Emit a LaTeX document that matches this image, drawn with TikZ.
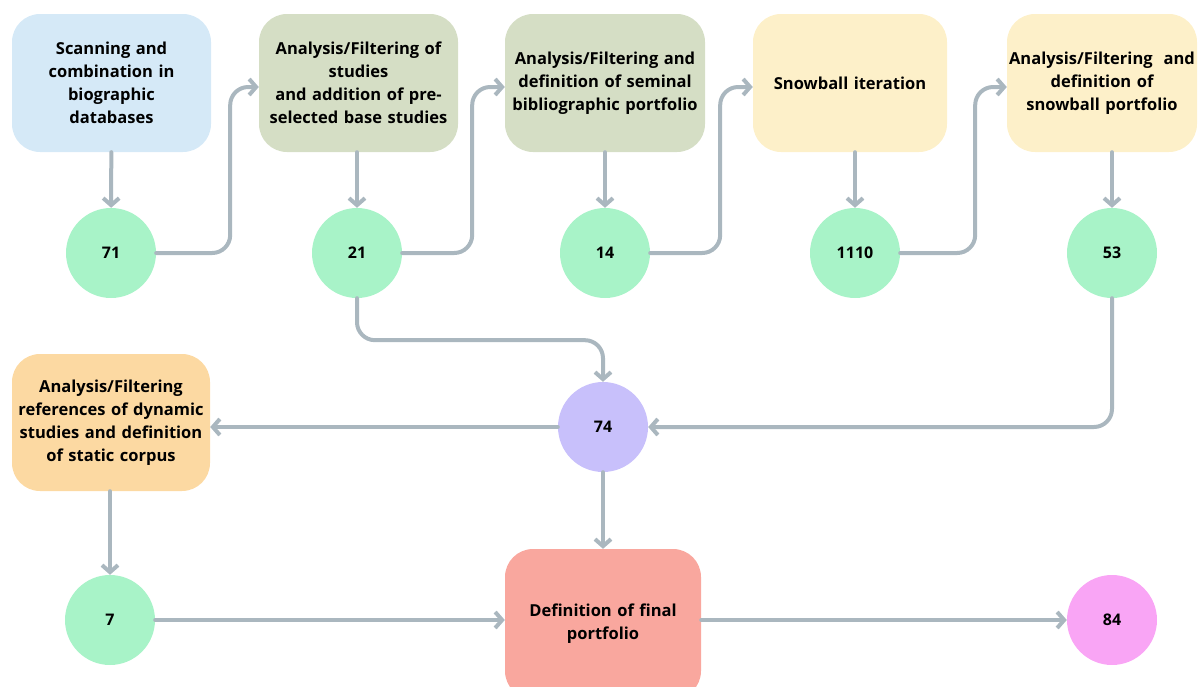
\documentclass[tikz,border=0pt]{standalone}
\usepackage{fontspec}
\setmainfont{Open Sans}
\usetikzlibrary{arrows.meta}
\definecolor{arrowgray}{HTML}{AAB7BF}
\definecolor{fillblue}{HTML}{D5E9F7}
\definecolor{fillsage}{HTML}{D5DEC5}
\definecolor{fillyellow}{HTML}{FDF0C9}
\definecolor{fillorange}{HTML}{FCD9A2}
\definecolor{fillsalmon}{HTML}{F9A79E}
\definecolor{fillgreen}{HTML}{A8F3C8}
\definecolor{fillpurple}{HTML}{C8C0FB}
\definecolor{fillpink}{HTML}{F9A5F5}
\begin{document}
\begin{tikzpicture}[x=1pt,y=-1pt,
  box/.style={rounded corners=28pt, minimum height=138pt, inner sep=0pt,
    align=center, font=\bfseries\fontsize{16.5}{23}\selectfont},
  num/.style={circle, minimum size=90pt, inner sep=0pt, fill=fillgreen,
    font=\bfseries\fontsize{16}{18}\selectfont},
  flow/.style={draw=arrowgray, line width=4pt, rounded corners=18pt,
    line cap=round, line join=round,
    -{Straight Barb[length=7pt,width=16pt,line width=4pt]}}]
\useasboundingbox (0,0) rectangle (1203,686);

% top row of process steps
\node[box, fill=fillblue, text width=199pt] (b1) at (111.5,83)
  {Scanning and\\combination in\\biographic\\databases};
\node[box, fill=fillsage, text width=199pt] (b2) at (358.5,83)
  {Analysis/Filtering of\\studies\\and addition of pre-\\selected base studies};
\node[box, fill=fillsage, text width=200pt] (b3) at (605,83)
  {Analysis/Filtering and\\definition of seminal\\bibliographic portfolio};
\node[box, fill=fillyellow, text width=194pt] (b4) at (850,83)
  {Snowball iteration};
\node[box, fill=fillyellow, text width=190pt] (b5) at (1102,83)
  {Analysis/Filtering~ and\\definition of\\snowball portfolio};

% counts after each step
\node[num] (c71) at (111,253) {71};
\node[num] (c21) at (357,253) {21};
\node[num] (c14) at (605,253) {14};
\node[num] (c1110) at (855,253) {1110};
\node[num] (c53) at (1112,253) {53};

% merging and final stages
\node[num, fill=fillpurple] (c74) at (603,427) {74};
\node[box, fill=fillorange, text width=198pt, minimum height=137pt] (b6) at (111,422.5)
  {Analysis/Filtering\\references of dynamic\\studies and definition\\of static corpus};
\node[num] (c7) at (110,620) {7};
\node[box, fill=fillsalmon, text width=196pt, minimum height=150pt] (b7) at (603,624)
  {Definition of final\\portfolio};
\node[num, fill=fillpink] (c84) at (1112,620) {84};

% connectors
\draw[flow] (b1) -- (c71);
\draw[flow] (c71.east) -- ++(74,0) |- ([yshift=-4pt]b2.west);
\draw[flow] (b2.south -| c21) -- (c21);
\draw[flow] (c21.east) -- ++(70,0) |- ([yshift=-4pt]b3.west);
\draw[flow] (b3) -- (c14);
\draw[flow] (c14.east) -- ++(70,0) |- ([yshift=-4pt]b4.west);
\draw[flow] (b4.south -| c1110) -- (c1110);
\draw[flow] (c1110.east) -- ++(75,0) |- ([yshift=-4pt]b5.west);
\draw[flow] (b5.south -| c53) -- (c53);
\draw[flow] (c21.south) -- ++(0,42) -| (c74.north);
\draw[flow] (c53.south) |- (c74.east);
\draw[flow] (c74.west) -- (c74.west -| b6.east);
\draw[flow] (b6.south -| c7) -- (c7);
\draw[flow] (c74) -- (b7);
\draw[flow] (c7.east) -- (c7.east -| b7.west);
\draw[flow] (b7.east |- c84) -- (c84);
\end{tikzpicture}
\end{document}
